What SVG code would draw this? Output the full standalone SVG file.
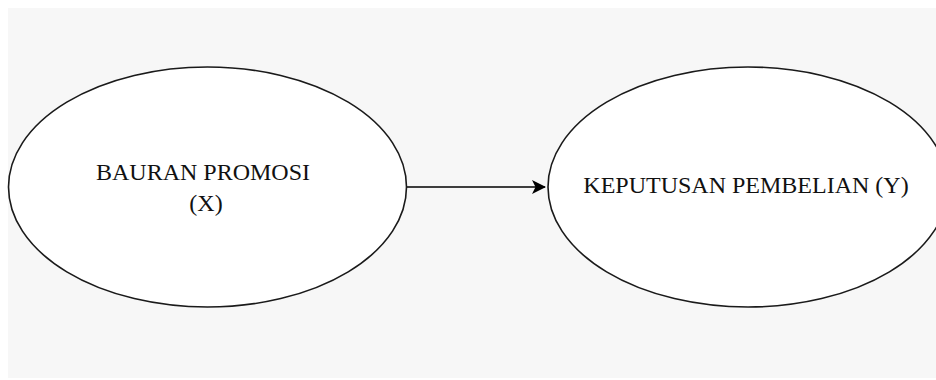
<svg xmlns="http://www.w3.org/2000/svg" width="936" height="380" viewBox="0 0 936 380">
  <style>
    .node { fill: #ffffff; stroke: #1a1a1a; stroke-width: 1.6; }
    .label { font-family: "Liberation Serif", "Times New Roman", serif; font-size: 24px; fill: #111111; text-anchor: middle; }
    .edge { stroke: #000000; stroke-width: 1.6; fill: none; }
  </style>
  <defs>
    <marker id="arrow" viewBox="0 0 14 14" refX="13" refY="7" markerWidth="14" markerHeight="14" markerUnits="userSpaceOnUse" orient="auto">
      <path d="M0,0 L14,7 L0,14 L3.5,7 Z" fill="#000000"/>
    </marker>
  </defs>
  <rect x="0" y="0" width="936" height="380" fill="#ffffff"/>
  <rect x="8" y="8" width="928" height="370" fill="#f7f7f7"/>
  <g id="connectors">
    <line class="edge" x1="407" y1="187" x2="545" y2="187" marker-end="url(#arrow)"/>
  </g>
  <g id="node-x">
    <ellipse class="node" cx="207.5" cy="187" rx="199" ry="120"/>
    <text class="label" x="203" y="180">BAURAN PROMOSI</text>
    <text class="label" x="206" y="211">(X)</text>
  </g>
  <g id="node-y">
    <ellipse class="node" cx="748" cy="187" rx="200" ry="120"/>
    <text class="label" x="746" y="193">KEPUTUSAN PEMBELIAN (Y)</text>
  </g>
</svg>
